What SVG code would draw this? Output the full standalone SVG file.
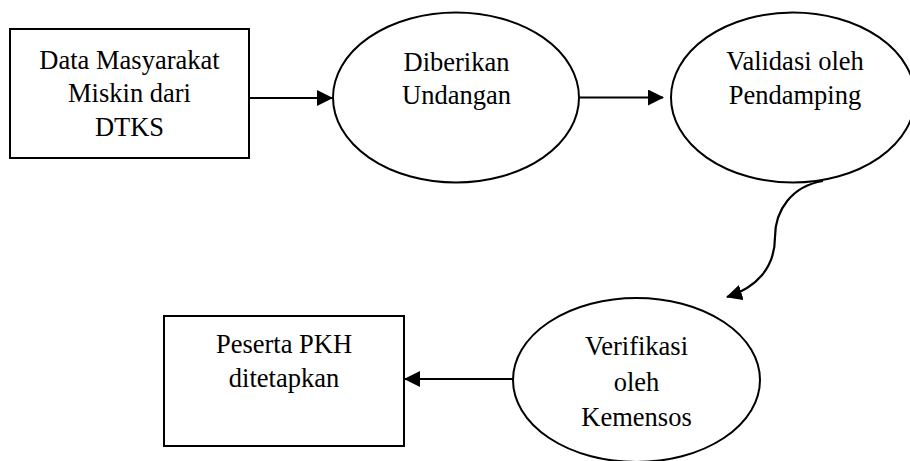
<svg xmlns="http://www.w3.org/2000/svg" width="910" height="461" viewBox="0 0 910 461">
<defs>
<style>
.box{fill:#fff;stroke:#000;stroke-width:2}
.ell{fill:#fff;stroke:#000;stroke-width:2}
.lbl{font-family:"Liberation Serif","Times New Roman",serif;font-size:26.5px;fill:#000;text-anchor:middle}
.con{fill:none;stroke:#000;stroke-width:2.2}
</style>
<marker id="ah" viewBox="0 0 16 16" refX="15" refY="8" markerWidth="16" markerHeight="16" markerUnits="userSpaceOnUse" orient="auto">
<path d="M0,0 L16,8 L0,16 Z" fill="#000"/>
</marker>
</defs>
<rect width="910" height="461" fill="#fff"/>
<g id="connectors">
<line class="con" x1="249" y1="98" x2="332" y2="98" marker-end="url(#ah)"/>
<line class="con" x1="579" y1="97.5" x2="663" y2="97.5" marker-end="url(#ah)"/>
<path class="con" d="M823,181 C792,186 775,210 775,237 C775,268 756,288 727,297" marker-end="url(#ah)"/>
<line class="con" x1="513" y1="379" x2="405" y2="379" marker-end="url(#ah)"/>
</g>
<g id="n1">
<rect class="box" x="10" y="29" width="239" height="129"/>
<text class="lbl" x="129.5" y="69">Data Masyarakat</text>
<text class="lbl" x="129.5" y="102">Miskin dari</text>
<text class="lbl" x="129.5" y="136">DTKS</text>
</g>
<g id="n2">
<ellipse class="ell" cx="456" cy="97.5" rx="123" ry="85"/>
<text class="lbl" x="456.5" y="71">Diberikan</text>
<text class="lbl" x="456.5" y="104">Undangan</text>
</g>
<g id="n3">
<ellipse class="ell" cx="793" cy="97.5" rx="122" ry="85"/>
<text class="lbl" x="795" y="70">Validasi oleh</text>
<text class="lbl" x="795" y="104">Pendamping</text>
</g>
<g id="n4">
<ellipse class="ell" cx="636.5" cy="380" rx="123.5" ry="82"/>
<text class="lbl" x="636.5" y="355">Verifikasi</text>
<text class="lbl" x="636.5" y="391">oleh</text>
<text class="lbl" x="636.5" y="426">Kemensos</text>
</g>
<g id="n5">
<rect class="box" x="164" y="316" width="240" height="130"/>
<text class="lbl" x="284" y="353">Peserta PKH</text>
<text class="lbl" x="284" y="387">ditetapkan</text>
</g>
</svg>
